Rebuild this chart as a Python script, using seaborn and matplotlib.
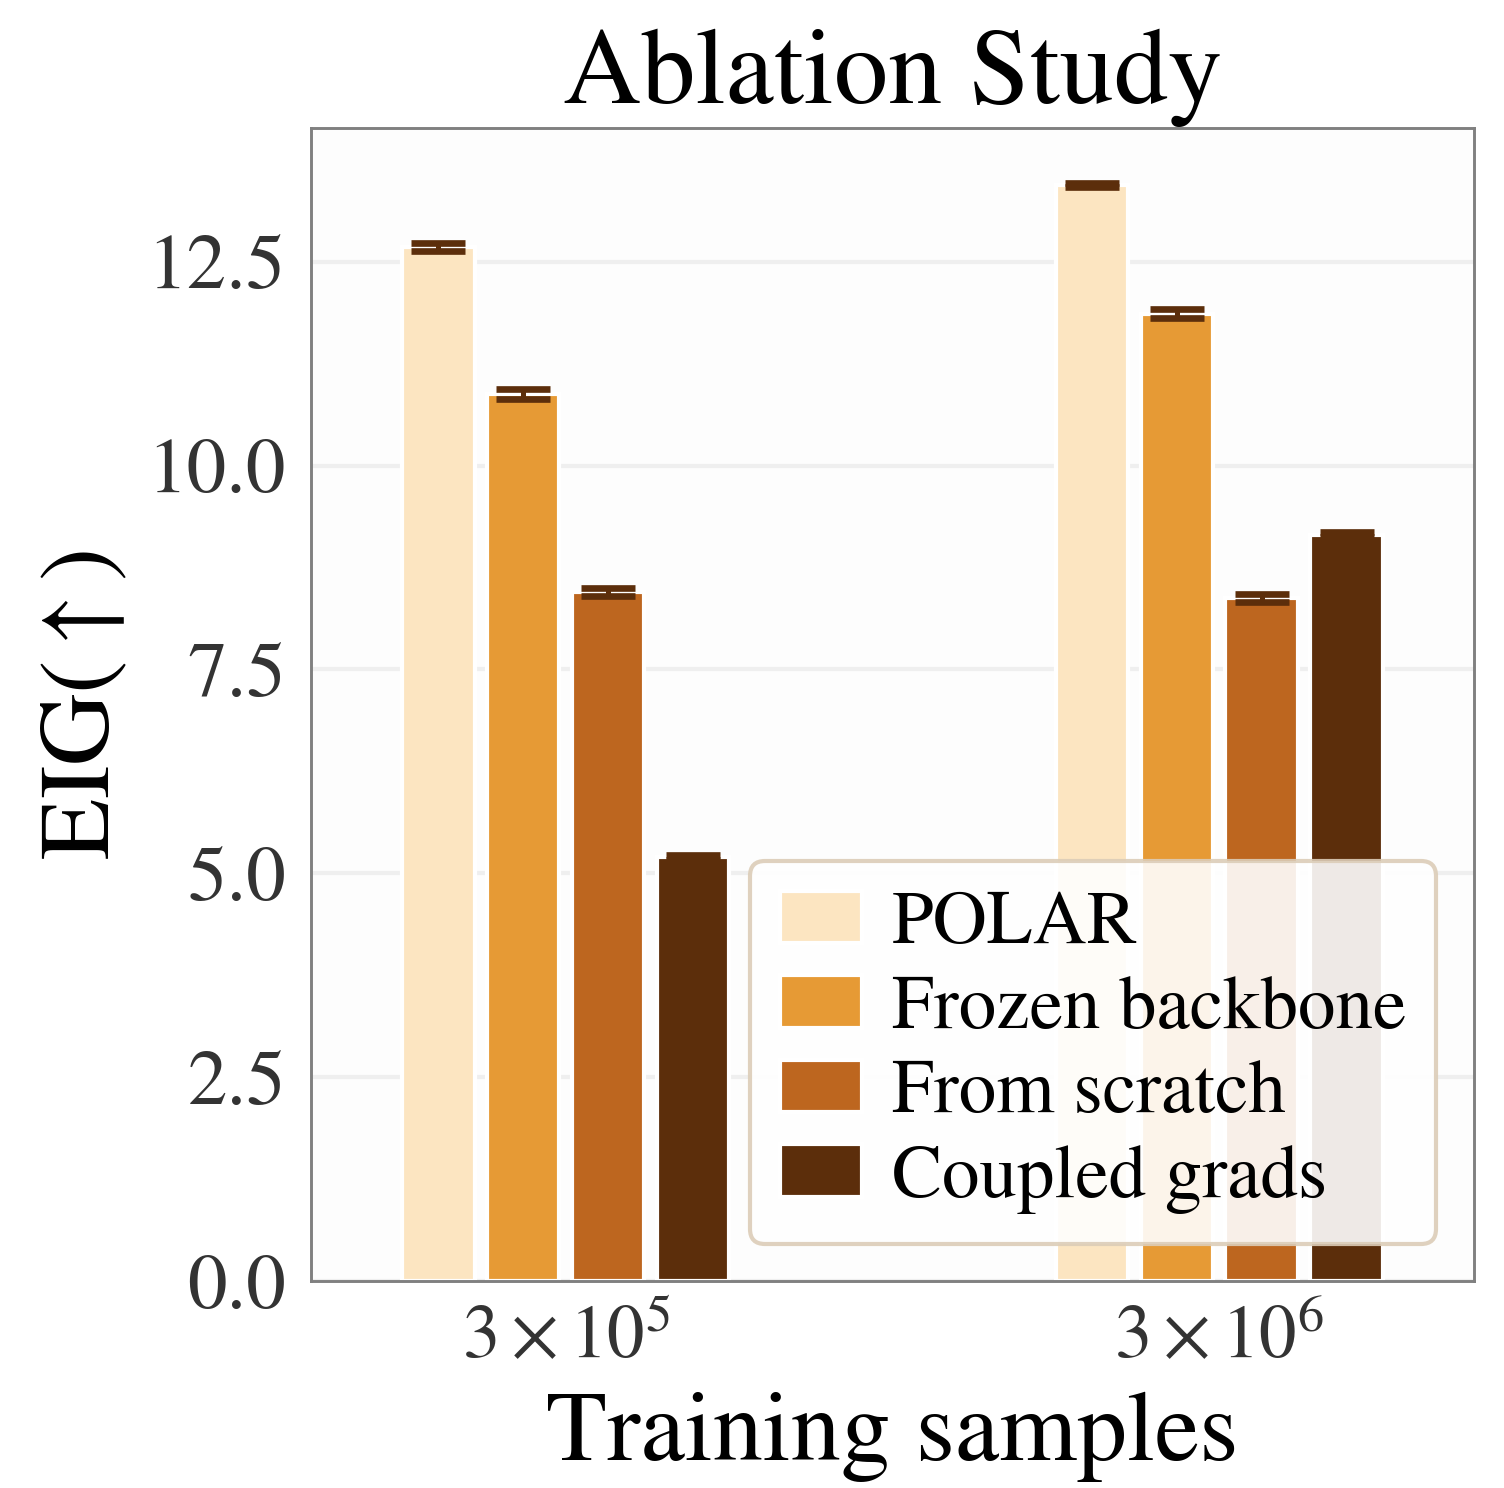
import numpy as np
import pandas as pd
import matplotlib
matplotlib.use("Agg")
import matplotlib.pyplot as plt
import seaborn as sns

# data
samples = [r"$3\times10^5$", r"$3\times10^6$"]
methods = ["POLAR", "Frozen backbone", "From scratch", "Coupled grads"]
eig_3e5 = [12.68, 10.88, 8.45, 5.20]
eig_3e6 = [13.44, 11.86, 8.38, 9.15]
err_3e5 = [0.045, 0.06, 0.05, 0.03]
err_3e6 = [0.02, 0.055, 0.05, 0.03]
colors = ["#fce5c1", "#e69a35", "#bd661f", "#5c2e0b"]

sns.set_theme(style="whitegrid")
plt.rcParams["font.family"] = ["STIXGeneral", "DejaVu Serif"]
plt.rcParams["mathtext.fontset"] = "stix"

df = pd.DataFrame({
    "samples": [samples[0]] * 4 + [samples[1]] * 4,
    "method": methods * 2,
    "eig": eig_3e5 + eig_3e6,
    "err": err_3e5 + err_3e6,
})

fig = plt.figure(figsize=(1504 / 300, 1488 / 300), dpi=300)
ax = fig.add_axes([0.2068, 0.139, 0.7732, 0.775])
ax.set_facecolor("#fdfdfd")

sns.barplot(data=df, x="samples", y="eig", hue="method", hue_order=methods,
            palette=colors, width=0.52, gap=0.15, errorbar=None,
            saturation=1, ax=ax, zorder=2)

# error bars at the bar centres
for cont, m in zip(ax.containers, methods):
    sub = df[df["method"] == m]
    xs = [p.get_x() + p.get_width() / 2 for p in cont.patches]
    ax.errorbar(xs, sub["eig"].values, yerr=sub["err"].values, fmt="none",
                ecolor="#5c2e0b", elinewidth=1.2, capsize=6.5, capthick=1.6,
                zorder=3)

ax.set_ylim(0, 14.14)
ax.set_xlim(-0.39, 1.39)
ax.set_yticks([0, 2.5, 5, 7.5, 10, 12.5])
ax.set_yticklabels(["0.0", "2.5", "5.0", "7.5", "10.0", "12.5"])
ax.grid(axis="y", color="#efefef", linewidth=1.0)
ax.grid(axis="x", visible=False)
ax.tick_params(axis="both", labelsize=19, labelcolor="#333333", length=0, pad=6)
ax.tick_params(axis="x", labelsize=18)
for s in ax.spines.values():
    s.set_color("#808080")
    s.set_linewidth(0.7)

ax.set_title("Ablation Study", fontsize=26, pad=6, color="black")
ax.set_xlabel("Training samples", fontsize=24, labelpad=4, color="black")
ax.set_ylabel(r"EIG$(\uparrow)$", fontsize=24, labelpad=4, color="black")

leg = ax.legend(loc="lower right", fontsize=18, frameon=True, fancybox=True,
                handlelength=1.1, handletextpad=0.4, labelspacing=0.2,
                framealpha=0.9)
leg.get_frame().set_edgecolor("#dccdb8")
leg.get_frame().set_linewidth(1.0)
for t in leg.get_texts():
    t.set_color("black")

fig.savefig("out.png", dpi=300)
